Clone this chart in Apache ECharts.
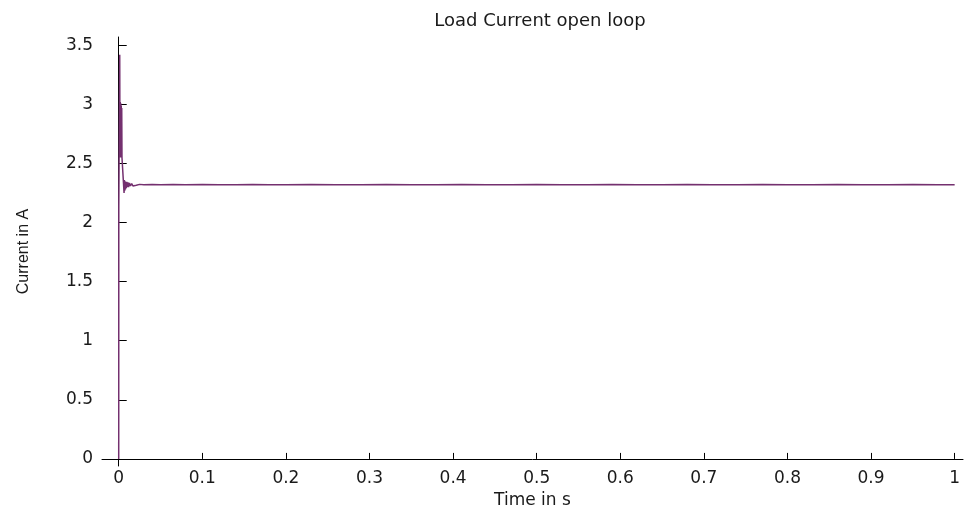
<!DOCTYPE html>
<html>
<head>
<meta charset="utf-8">
<script src="https://cdn.jsdelivr.net/npm/echarts@6/dist/echarts.min.js"></script>
<style>
  html, body { margin: 0; padding: 0; background: #fff; }
  #chart { width: 965px; height: 510px; }
</style>
</head>
<body>
<div id="chart"></div>
<script>
// samples (time in s, current in A)
const timeValues = [
  0, 0.0001, 0.0006, 0.0012, 0.0015, 0.0018, 0.0021, 0.0024, 0.0027, 0.0030,
  0.0033, 0.0036, 0.0039, 0.0060, 0.0064, 0.0068, 0.0072, 0.0076, 0.0080, 0.0085,
  0.0090, 0.0096, 0.0102, 0.0110, 0.0118, 0.0128, 0.0140, 0.0155, 0.0170, 0.0190,
  0.0210, 0.0250, 0.030, 0.040, 0.050, 0.065, 0.080, 0.100, 0.120, 0.140,
  0.160, 0.180, 0.200, 0.230, 0.260, 0.290, 0.320, 0.350, 0.380, 0.410,
  0.440, 0.470, 0.500, 0.530, 0.560, 0.590, 0.620, 0.650, 0.680, 0.710,
  0.740, 0.770, 0.800, 0.830, 0.860, 0.890, 0.920, 0.950, 0.980, 1.000
];
const currentValues = [
  0, 2.13, 2.13, 3.42, 2.56, 3.02, 2.55, 3.01, 2.57, 2.99,
  2.58, 2.97, 2.55, 2.55, 2.25, 2.36, 2.27, 2.35, 2.28, 2.34,
  2.29, 2.345, 2.30, 2.34, 2.30, 2.335, 2.31, 2.33, 2.31, 2.325,
  2.315, 2.323, 2.32, 2.321, 2.319, 2.321, 2.319, 2.321, 2.32, 2.319,
  2.321, 2.32, 2.319, 2.321, 2.32, 2.319, 2.321, 2.32, 2.319, 2.321,
  2.32, 2.319, 2.321, 2.32, 2.319, 2.321, 2.32, 2.319, 2.321, 2.32,
  2.319, 2.321, 2.32, 2.319, 2.321, 2.32, 2.319, 2.321, 2.32, 2.32
];
const xTicks = [0, 0.1, 0.2, 0.3, 0.4, 0.5, 0.6, 0.7, 0.8, 0.9, 1];
const yTicks = [0, 0.5, 1, 1.5, 2, 2.5, 3, 3.5];

const chart = echarts.init(document.getElementById('chart'));
const axisColor = '#000';
const labelFont = { color: '#1a1a1a', fontFamily: 'DejaVu Sans', fontSize: 17 };

chart.setOption({
  animation: false,
  backgroundColor: '#fff',
  title: {
    text: 'Load Current open loop',
    left: 535,
    textAlign: 'center',
    top: 7,
    textStyle: { color: '#1a1a1a', fontFamily: 'DejaVu Sans', fontSize: 18, fontWeight: 'normal' }
  },
  grid: { left: 102, right: 2, top: 37, bottom: 44, outerBoundsMode: 'none' },
  xAxis: {
    type: 'value',
    min: -0.02,
    max: 1.01,
    name: 'Time in s',
    nameLocation: 'middle',
    nameGap: 26,
    nameTextStyle: { color: '#1a1a1a', fontFamily: 'DejaVu Sans', fontSize: 17 },
    axisLine: { show: true, lineStyle: { color: axisColor, width: 1 } },
    axisTick: { show: true, inside: true, length: 6, customValues: xTicks, lineStyle: { color: axisColor } },
    axisLabel: Object.assign({ margin: 4, customValues: xTicks, formatter: v => String(v) }, labelFont),
    splitLine: { show: false }
  },
  yAxis: {
    type: 'value',
    min: -0.06,
    max: 3.57,
    name: 'Current in A',
    nameLocation: 'middle',
    nameRotate: 90,
    nameGap: 70,
    nameTextStyle: { color: '#1a1a1a', fontFamily: 'Liberation Sans', fontSize: 16 },
    axisLine: { show: true, lineStyle: { color: axisColor, width: 1 } },
    axisTick: { show: true, inside: true, length: 8, customValues: yTicks, lineStyle: { color: axisColor } },
    axisLabel: Object.assign({ margin: 9, customValues: yTicks, formatter: v => String(v) }, labelFont),
    splitLine: { show: false }
  },
  series: [{
    type: 'line',
    data: timeValues.map((t, i) => [t, currentValues[i]]),
    showSymbol: false,
    lineStyle: { color: '#74306f', width: 1.5 },
    itemStyle: { color: '#74306f' }
  }]
});
</script>
</body>
</html>
